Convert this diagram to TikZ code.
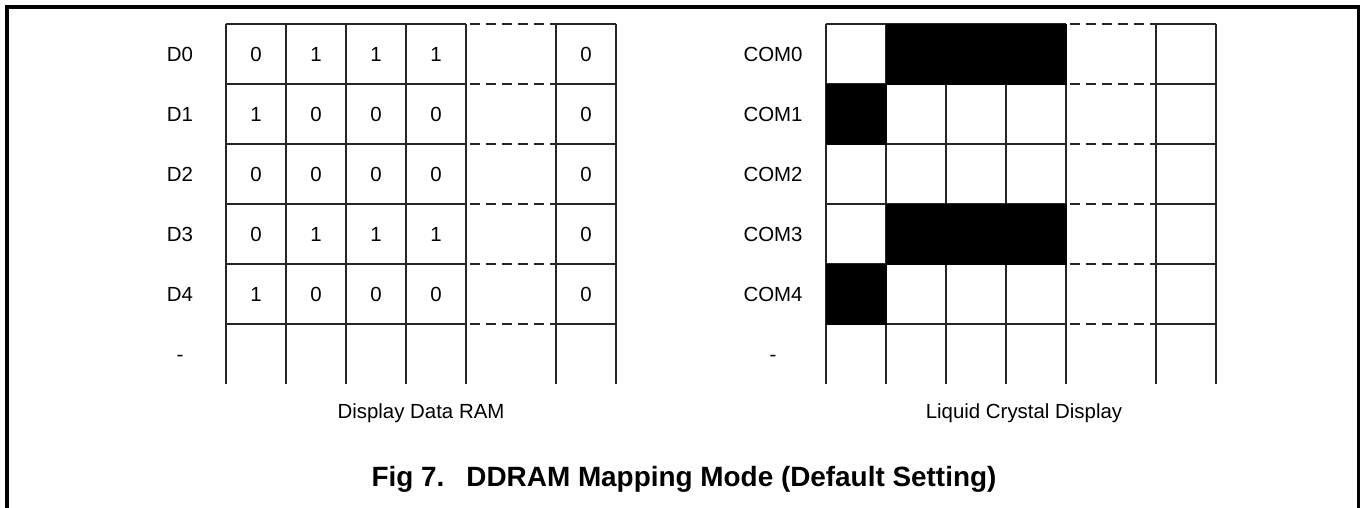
\documentclass[tikz,border=0pt]{standalone}
\usepackage{fontspec}
\setmainfont{Liberation Sans}
\begin{document}
\begin{tikzpicture}[x=1bp,y=-1bp,
  gridline/.style={line width=1.2bp, draw=black!85},
  dashline/.style={line width=1.2bp, draw=black!85, dash pattern=on 10bp off 6bp, dash phase=-4bp},
  frameline/.style={line width=3.5bp, draw=black},
  pixel/.style={fill=black, draw=black, line width=0.6bp},
  lbl/.style={font=\fontsize{20.5}{24}\selectfont, anchor=base, inner sep=0pt},
  captext/.style={font=\fontsize{20.5}{24}\selectfont, anchor=base, inner sep=0pt},
  ttl/.style={font=\bfseries\fontsize{28}{32}\selectfont, anchor=base, inner sep=0pt}]
\useasboundingbox (0,0) rectangle (1365,508);
% frame
\draw[frameline] (7,510) -- (7,7) -- (1358.5,7) -- (1358.5,510);
% the two grids
\foreach \ox in {226,826}{
  \foreach \dx in {0,60,120,180,240,330,390}{
    \draw[gridline] (\ox+\dx,24) -- (\ox+\dx,384);
  }
  \foreach \y in {24,84,144,204,264,324}{
    \draw[gridline] (\ox,\y) -- (\ox+240,\y);
    \draw[dashline] (\ox+240,\y) -- (\ox+330,\y);
    \draw[gridline] (\ox+330,\y) -- (\ox+390,\y);
  }
}
% black pixels of the LCD
\path[pixel] (886,24) rectangle (1066,84);
\path[pixel] (826,84) rectangle (886,144);
\path[pixel] (886,204) rectangle (1066,264);
\path[pixel] (826,264) rectangle (886,324);
% row labels
\foreach \r/\t in {0/D0,1/D1,2/D2,3/D3,4/D4,5/-}{
  \node[lbl] (dl\r) at (180,54+60*\r+7.4) {\t};
}
\foreach \r/\t in {0/COM0,1/COM1,2/COM2,3/COM3,4/COM4,5/-}{
  \node[lbl] (cl\r) at (773,54+60*\r+7.4) {\t};
}
% RAM contents
\foreach \r/\a/\b/\c/\d/\e in {0/0/1/1/1/0,1/1/0/0/0/0,2/0/0/0/0/0,3/0/1/1/1/0,4/1/0/0/0/0}{
  \node[lbl] (v\r a) at (256,54+60*\r+7.4) {\a};
  \node[lbl] (v\r b) at (316,54+60*\r+7.4) {\b};
  \node[lbl] (v\r c) at (376,54+60*\r+7.4) {\c};
  \node[lbl] (v\r d) at (436,54+60*\r+7.4) {\d};
  \node[lbl] (v\r e) at (586,54+60*\r+7.4) {\e};
}
% captions
\node[captext] (ramcap) at (421,418) {Display Data RAM};
\node[captext] (lcdcap) at (1024,418) {Liquid Crystal Display};
\node[ttl] (title) at (684,486) {Fig 7.\hspace{22bp}DDRAM Mapping Mode (Default Setting)};
\end{tikzpicture}
\end{document}
